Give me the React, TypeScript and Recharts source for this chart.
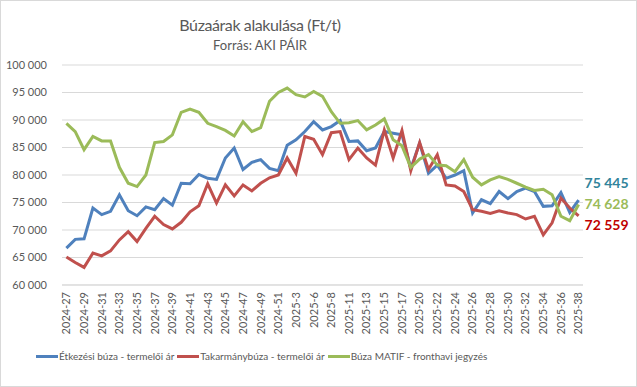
import React from 'react';
import { LineChart, Line, XAxis, YAxis, CartesianGrid, Legend, LabelList } from 'recharts';

const weeks = [
  '2024-27', '2024-28', '2024-29', '2024-30', '2024-31', '2024-32', '2024-33', '2024-34', '2024-35', '2024-36',
  '2024-37', '2024-38', '2024-39', '2024-40', '2024-41', '2024-42', '2024-43', '2024-44', '2024-45', '2024-46',
  '2024-47', '2024-48', '2024-49', '2024-50', '2024-51', '2024-52', '2025-3', '2025-5', '2025-6', '2025-7',
  '2025-8', '2025-10', '2025-11', '2025-12', '2025-13', '2025-14', '2025-15', '2025-16', '2025-17', '2025-19',
  '2025-20', '2025-21', '2025-22', '2025-23', '2025-24', '2025-25', '2025-26', '2025-27', '2025-28', '2025-29',
  '2025-30', '2025-31', '2025-32', '2025-33', '2025-34', '2025-35', '2025-36', '2025-37', '2025-38',
];

const etkezesi = [
  66700, 68300, 68400, 74000, 72800, 73400, 76400, 73500, 72600, 74200,
  73700, 75700, 74500, 78500, 78400, 80100, 79400, 79200, 83100, 84900,
  81000, 82300, 82800, 81200, 80800, 85400, 86400, 87900, 89700, 88200,
  88800, 89900, 86100, 86200, 84400, 84900, 87900, 87600, 87300, 81200,
  85800, 80300, 81800, 79400, 80000, 80800, 73100, 75500, 74800, 77000,
  75700, 77000, 77600, 77000, 74300, 74400, 76800, 73200, 75445,
];

const takarmany = [
  65100, 64100, 63200, 65800, 65300, 66200, 68200, 69700, 67900, 70300,
  72500, 71000, 70200, 71400, 73300, 74400, 78400, 74900, 78200, 76200,
  78200, 77100, 78500, 79500, 80000, 83100, 80300, 87000, 86500, 83700,
  87700, 87900, 82800, 84900, 83100, 81800, 88200, 83100, 88100, 80800,
  85900, 81000, 83700, 78200, 78000, 77000, 73700, 73400, 73000, 73500,
  73100, 72800, 72000, 72500, 69100, 71300, 75800, 74000, 72559,
];

const matif = [
  89400, 87900, 84600, 87000, 86200, 86200, 81400, 78500, 77900, 80000,
  85900, 86100, 87300, 91400, 92000, 91400, 89400, 88800, 88100, 87100,
  89700, 87900, 88600, 93400, 95000, 95800, 94600, 94200, 95200, 94300,
  91500, 89400, 89500, 89900, 88200, 89100, 90200, 86400, 85300, 81400,
  82900, 83700, 81800, 81700, 80600, 82800, 79600, 78200, 79100, 79700,
  79200, 78500, 77800, 77200, 77400, 76400, 72500, 71700, 74628,
];

const yTicks = [60000, 65000, 70000, 75000, 80000, 85000, 90000, 95000, 100000];

const series = [
  { key: 'etkezesi', name: 'Étkezési búza - termelői ár', color: '#4F81BD', labelColor: '#31849B', dy: -17 },
  { key: 'takarmany', name: 'Takarmánybúza - termelői ár', color: '#C0504D', labelColor: '#C00000', dy: 9 },
  { key: 'matif', name: 'Búza MATIF - fronthavi jegyzés', color: '#9BBB59', labelColor: '#9BBB59', dy: 0 },
];

const data = weeks.map((w, i) => ({
  week: w,
  etkezesi: etkezesi[i],
  takarmany: takarmany[i],
  matif: matif[i],
}));

const LAST = weeks.length - 1;
const FONT = 'Lato, "Open Sans", sans-serif';
const TEXT = '#595959';

const fmt = (v: number) => String(Math.round(v)).replace(/\B(?=(\d{3})+(?!\d))/g, ' ');

const XTick = (props: any) => {
  const { x, y, payload } = props;
  return (
    <text
      x={x}
      y={y}
      transform={`rotate(-90 ${x} ${y})`}
      textAnchor="end"
      dy="0.35em"
      fontSize={11}
      fontFamily={FONT}
      fill={TEXT}
    >
      {payload.value}
    </text>
  );
};

const endLabel = (color: string, dy: number) => (props: any) => {
  const { x, y, index, value } = props;
  if (index !== LAST) return null;
  return (
    <text
      x={x + 6}
      y={y + dy}
      dy="0.35em"
      fill={color}
      fontSize={14}
      fontWeight="bold"
      fontFamily={FONT}
    >
      {fmt(value)}
    </text>
  );
};

const renderLegend = () => (
  <div style={{ display: 'flex', paddingLeft: 36, fontFamily: FONT, fontSize: 10, color: TEXT, lineHeight: '26px' }}>
    {series.map((s) => (
      <div key={s.key} style={{ display: 'flex', alignItems: 'center', marginRight: 3 }}>
        <span style={{ display: 'inline-block', width: 22, height: 3, background: s.color, marginRight: 1 }} />
        <span>{s.name}</span>
      </div>
    ))}
  </div>
);

export default function App() {
  return (
    <div style={{ position: 'absolute', top: 0, left: 0, width: 637, height: 387, background: '#fff' }}>
      <div
        style={{
          position: 'absolute', top: 0, left: 0, width: 637, height: 387,
          border: '1px solid #d9d9d9', boxSizing: 'border-box', pointerEvents: 'none',
        }}
      />
      <div style={{ position: 'absolute', top: 15, left: 0, width: 520, textAlign: 'center', fontFamily: FONT, fontSize: 16, letterSpacing: -0.4, color: TEXT }}>
        Búzaárak alakulása (Ft/t)
      </div>
      <div style={{ position: 'absolute', top: 37, left: 0, width: 520, textAlign: 'center', fontFamily: FONT, fontSize: 13, color: TEXT }}>
        Forrás: AKI PÁIR
      </div>
      <LineChart width={637} height={387} data={data} margin={{ top: 65, right: 54, bottom: 18, left: 0 }}>
        <CartesianGrid vertical={false} stroke="#d9d9d9" />
        <XAxis
          dataKey="week"
          interval={1}
          tick={<XTick />}
          tickLine={false}
          tickSize={0}
          tickMargin={7}
          axisLine={{ stroke: '#d9d9d9' }}
          height={58}
          padding={{ left: 4.4, right: 4.4 }}
        />
        <YAxis
          domain={[60000, 100000]}
          ticks={yTicks}
          tickFormatter={fmt}
          axisLine={false}
          tickLine={false}
          tickSize={0}
          tickMargin={15}
          width={62}
          tick={{ fontSize: 11, fontFamily: FONT, fill: TEXT }}
        />
        <Legend verticalAlign="bottom" height={26} content={renderLegend} />
        {series.map((s) => (
          <Line
            key={s.key}
            dataKey={s.key}
            name={s.name}
            stroke={s.color}
            strokeWidth={3}
            dot={false}
            isAnimationActive={false}
          >
            <LabelList dataKey={s.key} content={endLabel(s.labelColor, s.dy)} />
          </Line>
        ))}
      </LineChart>
    </div>
  );
}
